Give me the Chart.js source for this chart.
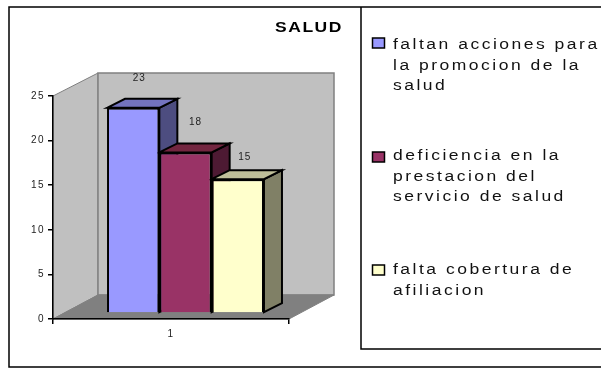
<!DOCTYPE html>
<html>
<head>
<meta charset="utf-8">
<title>SALUD</title>
<script src="https://cdn.jsdelivr.net/npm/chart.js@4/dist/chart.umd.min.js"></script>
<style>
    html, body { margin: 0; padding: 0; background: #fff; overflow: hidden; }
    canvas { display: block; }
</style>
</head>
<body>
<canvas id="saludChart" width="601" height="368"></canvas>
<script>
// datos del grafico
const chartTitle = 'SALUD';
const categories = ['1'];
const seriesNames = [
    ['faltan acciones para', 'la promocion de la', 'salud'],
    ['deficiencia en la', 'prestacion del', 'servicio de salud'],
    ['falta cobertura de', 'afiliacion']
];
const seriesValues = [[23], [18], [15]];
const yTicks = [0, 5, 10, 15, 20, 25];

// colores: frente, tapa y costado de cada barra
const frontColors = ['#9999FF', '#993366', '#FFFFCC'];
const topColors = ['#7373BF', '#732640', '#BFBF99'];
const sideColors = ['#4D4D80', '#4D1A33', '#808066'];

// profundidad de la caja 3D y de las barras
const wallDepth = { x: 45, y: 23 };
const barDepth = { x: 18, y: 9 };
const barShift = { x: 14.5, y: -6 };

// ajuste de cada etiqueta de valor respecto a la barra
const labelOffsets = [[6, -30], [10, -30], [7, -22]];
const legendRows = [45, 156, 270];
const swatchTops = [38, 152, 265];

function polygon(ctx, points, fill, stroke, lineWidth) {
    ctx.beginPath();
    points.forEach((p, i) => i ? ctx.lineTo(p[0], p[1]) : ctx.moveTo(p[0], p[1]));
    ctx.closePath();
    ctx.fillStyle = fill;
    ctx.fill();
    if (stroke) {
        ctx.strokeStyle = stroke;
        ctx.lineWidth = lineWidth;
        ctx.stroke();
    }
}

// texto ensanchado, la fuente del original es mas ancha
function wideText(ctx, text, x, y, stretch) {
    ctx.save();
    ctx.translate(x, y);
    ctx.scale(stretch, 1);
    ctx.fillText(text, 0, 0);
    ctx.restore();
}

// paredes y piso detras de los ejes
const wallsPlugin = {
    id: 'walls',
    beforeDraw(chart) {
        const ctx = chart.ctx;
        const a = chart.chartArea;
        const d = wallDepth;
        ctx.save();
        polygon(ctx, [[a.left, a.top], [a.left + d.x, a.top - d.y], [a.left + d.x, a.bottom - d.y - 1], [a.left, a.bottom]], '#C0C0C0', '#808080', 1);
        polygon(ctx, [[a.left + d.x, a.top - d.y], [a.right + d.x, a.top - d.y], [a.right + d.x, a.bottom - d.y - 1], [a.left + d.x, a.bottom - d.y - 1]], '#C0C0C0', '#808080', 1.5);
        polygon(ctx, [[a.left, a.bottom], [a.left + d.x, a.bottom - d.y - 1], [a.right + d.x, a.bottom - d.y - 1], [a.right, a.bottom]], '#808080', '#808080', 1);
        ctx.restore();
        // separacion de los numeros de los ejes
        ctx.letterSpacing = '1.5px';
    }
};

// tapas y costados antes de que Chart.js dibuje los frentes
const barFacesPlugin = {
    id: 'barFaces',
    beforeDatasetsDraw(chart) {
        const ctx = chart.ctx;
        ctx.save();
        ctx.translate(barShift.x, barShift.y);
        seriesValues.forEach((values, i) => {
            chart.getDatasetMeta(i).data.forEach(bar => {
                const p = bar.getProps(['x', 'y', 'base', 'width'], true);
                const l = p.x - p.width / 2;
                const r = p.x + p.width / 2;
                polygon(ctx, [[r, p.y], [r + barDepth.x, p.y - barDepth.y], [r + barDepth.x, p.base - barDepth.y], [r, p.base]], sideColors[i], '#000', 2);
                polygon(ctx, [[l, p.y], [l + barDepth.x, p.y - barDepth.y], [r + barDepth.x, p.y - barDepth.y], [r, p.y]], topColors[i], '#000', 2);
            });
        });
    },
    afterDatasetsDraw(chart) {
        chart.ctx.restore();
    }
};

// titulo, etiquetas de valor, leyenda y marcos
const overlayPlugin = {
    id: 'overlay',
    afterDraw(chart) {
        const ctx = chart.ctx;
        ctx.save();

        ctx.strokeStyle = '#000';
        ctx.lineWidth = 1.5;
        ctx.beginPath();
        ctx.moveTo(602, 7);
        ctx.lineTo(9, 7);
        ctx.lineTo(9, 367);
        ctx.lineTo(602, 367);
        ctx.moveTo(361, 7);
        ctx.lineTo(361, 349);
        ctx.lineTo(602, 349);
        ctx.stroke();

        ctx.fillStyle = '#000';
        ctx.textBaseline = 'middle';
        ctx.textAlign = 'center';
        ctx.font = 'bold 14px "Liberation Sans"';
        ctx.letterSpacing = '1.2px';
        wideText(ctx, chartTitle, 309, 28, 1.25);

        ctx.font = '10px "Liberation Sans"';
        ctx.letterSpacing = '1px';
        ctx.fillStyle = '#222';
        seriesValues.forEach((values, i) => {
            const bar = chart.getDatasetMeta(i).data[0];
            const off = labelOffsets[i];
            ctx.fillText(String(values[0]), bar.x + barShift.x + off[0], bar.y + barShift.y + off[1]);
        });

        ctx.textAlign = 'left';
        ctx.font = '14px "Liberation Sans"';
        ctx.letterSpacing = '2px';
        seriesNames.forEach((lines, i) => {
            ctx.fillStyle = frontColors[i];
            ctx.strokeStyle = '#000';
            ctx.lineWidth = 1.5;
            ctx.fillRect(372.5, swatchTops[i], 12, 10);
            ctx.strokeRect(372.5, swatchTops[i], 12, 10);
            ctx.fillStyle = '#111';
            lines.forEach((line, j) => {
                wideText(ctx, line, 393, legendRows[i] + j * 20.7, 1.25);
            });
        });
        ctx.restore();
    }
};

new Chart(document.getElementById('saludChart'), {
    type: 'bar',
    data: {
        labels: categories,
        datasets: seriesValues.map((values, i) => ({
            label: seriesNames[i].join(' '),
            data: values,
            backgroundColor: frontColors[i],
            borderColor: '#000',
            borderWidth: 2,
            clip: false
        }))
    },
    options: {
        responsive: false,
        animation: false,
        barPercentage: 1,
        categoryPercentage: 0.665,
        layout: {
            padding: { left: 23, right: 312, top: 96, bottom: 19 }
        },
        plugins: {
            legend: { display: false },
            title: { display: false },
            tooltip: { enabled: false }
        },
        scales: {
            x: {
                afterFit(scale) { scale.height = 30; },
                border: { color: '#000', width: 1.5 },
                grid: { drawOnChartArea: false, color: '#000', tickLength: 5, lineWidth: 1.5 },
                ticks: { color: '#222', padding: 4, font: { family: 'Liberation Sans', size: 10 } }
            },
            y: {
                min: 0,
                max: 25,
                afterFit(scale) { scale.width = 30; },
                afterBuildTicks(scale) { scale.ticks = yTicks.map(v => ({ value: v })); },
                border: { color: '#000', width: 1.5 },
                grid: { drawOnChartArea: false, color: '#000', tickLength: 5, lineWidth: 1.5 },
                ticks: { color: '#222', padding: 3, font: { family: 'Liberation Sans', size: 10 } }
            }
        }
    },
    plugins: [wallsPlugin, barFacesPlugin, overlayPlugin]
});
</script>
</body>
</html>
